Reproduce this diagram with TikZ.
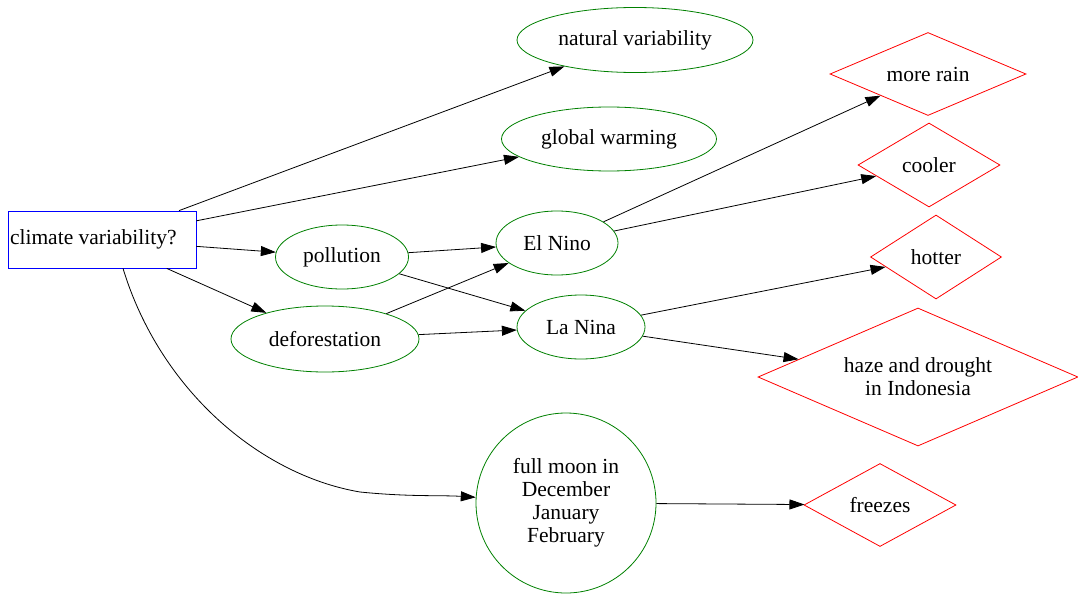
\documentclass[tikz,border=0pt]{standalone}
\usepackage{fontspec}
\setmainfont{Liberation Serif}
\usetikzlibrary{shapes.geometric,arrows.meta}
\definecolor{gvgreen}{RGB}{0,128,0}
\begin{document}
\begin{tikzpicture}[x=1pt,y=-1pt,
  every node/.style={font=\fontsize{21.5}{23}\selectfont, inner sep=0pt, align=center},
  boxnode/.style={draw=blue, rectangle, text width=184pt, align=flush left, inner xsep=2pt, minimum height=57pt, line width=0.8pt},
  ellnode/.style={draw=gvgreen, ellipse, line width=0.8pt},
  dianode/.style={draw=red, diamond, line width=0.8pt},
  conn/.style={line width=0.8pt, -{Triangle[length=15pt,width=10pt]}}]
\useasboundingbox (0,0) rectangle (1078,594);
\node[boxnode] (clim) at (102,239.5) {climate variability?};
\node[ellnode, minimum width=236pt, minimum height=65pt] (nat) at (635,40) {natural variability};
\node[ellnode, minimum width=215pt, minimum height=64pt] (glob) at (609,139) {global warming};
\node[ellnode, minimum width=133pt, minimum height=64pt] (poll) at (342,257) {pollution};
\node[ellnode, minimum width=188pt, minimum height=66pt] (defo) at (325,339) {deforestation};
\node[ellnode, minimum width=122pt, minimum height=64pt] (elnino) at (557,243) {El Nino};
\node[ellnode, minimum width=128pt, minimum height=64pt] (lanina) at (581,327) {La Nina};
\node[draw=gvgreen, circle, minimum size=180pt, line width=0.8pt] (moon) at (566,503) {full moon in\\December\\January\\February};
\node[dianode, aspect=2.36, minimum width=196pt, minimum height=83pt] (rain) at (928,74) {more rain};
\node[dianode, aspect=1.69, minimum width=142pt, minimum height=84pt] (cool) at (929,165) {cooler};
\node[dianode, aspect=1.56, minimum width=131pt, minimum height=84pt] (hot) at (936,257) {hotter};
\node[dianode, aspect=2.32, minimum width=320pt, minimum height=138pt] (haze) at (918,377) {haze and drought\\in Indonesia};
\node[dianode, aspect=1.83, minimum width=152pt, minimum height=83pt] (frz) at (880,505) {freezes};
\coordinate (climS) at ([xshift=21pt]clim.south);
\draw[conn] (clim) -- (nat);
\draw[conn] (clim) -- (glob);
\draw[conn] (clim) -- (poll);
\draw[conn] (clim) -- (defo);
\draw[conn] (climS) .. controls (160,390) and (260,475) .. (360,492) .. controls (410,497) and (440,495) .. (moon);
\draw[conn] (poll) -- (elnino);
\draw[conn] (poll) -- (lanina);
\draw[conn] (defo) -- (elnino);
\draw[conn] (defo) -- (lanina);
\draw[conn] (elnino) -- (rain);
\draw[conn] (elnino) -- (cool);
\draw[conn] (lanina) -- (hot);
\draw[conn] (lanina) -- (haze);
\draw[conn] (moon) -- (frz);
\end{tikzpicture}
\end{document}
